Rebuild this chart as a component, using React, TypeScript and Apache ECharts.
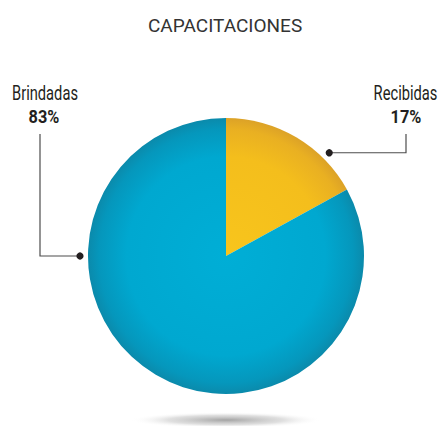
import React, { useEffect, useRef } from "react";
import * as echarts from "echarts";

const title = "CAPACITACIONES";
const categories = ["Recibidas", "Brindadas"];
const values = [17, 83];
// angle (deg, clockwise from 12 o'clock) where each leader line touches the pie
const leaderAngles = [45, 270];

const W = 439;
const H = 426;
const CX = 226;
const CY = 256;
const R = 138;
const DOT_GAP = 8;

const radial = (stops: [number, string][]) => ({
  type: "radial",
  x: CX,
  y: CY,
  r: R,
  global: true,
  colorStops: stops.map(([offset, color]) => ({ offset, color })),
});

const sliceColors = [
  radial([
    [0, "#F8C51C"],
    [0.72, "#F4BE1C"],
    [0.92, "#E9B022"],
    [1, "#DCA227"],
  ]),
  radial([
    [0, "#00AED6"],
    [0.72, "#00A8D0"],
    [0.92, "#0597BC"],
    [1, "#0B8AAB"],
  ]),
];

const dotPos = (i: number) => {
  const a = (leaderAngles[i] * Math.PI) / 180;
  const d = R + DOT_GAP;
  return [CX + d * Math.sin(a), CY - d * Math.cos(a)];
};

// label columns (x) for each category
const labelX = [405.5, 45];
const pctX = [406, 44];
const lineX = [406, 40];
const NAME_Y = 92.5;
const PCT_Y = 116.5;
const LINE_TOP = 134;

export default function App() {
  const ref = useRef<HTMLDivElement>(null);
  useEffect(() => {
    document.body.style.margin = "0";
    const chart = echarts.init(ref.current!, undefined, { renderer: "svg" });
    const font = "Roboto, 'Noto Sans', sans-serif";
    const labelGraphics: any[] = [];
    categories.forEach((name, i) => {
      const [dx, dy] = dotPos(i);
      labelGraphics.push({
        type: "polyline",
        shape: {
          points: [
            [dx, dy],
            [lineX[i], dy],
            [lineX[i], LINE_TOP],
          ],
        },
        style: { stroke: "#4d4d4d", lineWidth: 1.2, fill: null },
        z: 9,
      });
      labelGraphics.push({
        type: "circle",
        shape: { cx: dx, cy: dy, r: 3.6 },
        style: { fill: "#231f20" },
        z: 10,
      });
      labelGraphics.push({
        type: "text",
        x: labelX[i],
        y: NAME_Y,
        scaleX: 0.7,
        style: {
          text: name,
          x: 0,
          y: 0,
          align: "center",
          verticalAlign: "middle",
          font: `normal 21px ${font}`,
          fill: "#231f20",
        },
        z: 10,
      });
      labelGraphics.push({
        type: "text",
        x: pctX[i],
        y: PCT_Y,
        scaleX: 0.86,
        style: {
          text: `${values[i]}%`,
          x: 0,
          y: 0,
          align: "center",
          verticalAlign: "middle",
          font: `bold 19px ${font}`,
          fill: "#231f20",
        },
        z: 10,
      });
    });
    chart.setOption({
      animation: false,
      backgroundColor: "#ffffff",
      title: {
        text: title,
        left: 143,
        top: 11,
        textStyle: {
          fontFamily: font,
          fontSize: 19,
          fontWeight: "normal",
          color: "#333333",
        },
      },
      graphic: [
        {
          type: "ellipse",
          shape: { cx: CX, cy: 420, rx: 96, ry: 8 },
          style: {
            fill: {
              type: "radial",
              x: 0.5,
              y: 0.5,
              r: 0.5,
              colorStops: [
                { offset: 0, color: "rgba(140,140,140,0.8)" },
                { offset: 0.6, color: "rgba(185,185,185,0.45)" },
                { offset: 1, color: "rgba(255,255,255,0)" },
              ],
            },
          },
          z: 0,
        },
        ...labelGraphics,
      ],
      series: [
        {
          type: "pie",
          center: [CX, CY],
          radius: [0, R],
          startAngle: 90,
          clockwise: true,
          silent: true,
          emphasis: { disabled: true },
          itemStyle: { borderWidth: 0 },
          label: { show: false },
          labelLine: { show: false },
          data: categories.map((name, i) => ({
            name,
            value: values[i],
            itemStyle: { color: sliceColors[i] },
          })),
        },
      ],
    });
    return () => chart.dispose();
  }, []);
  return <div ref={ref} style={{ width: W, height: H }} />;
}
